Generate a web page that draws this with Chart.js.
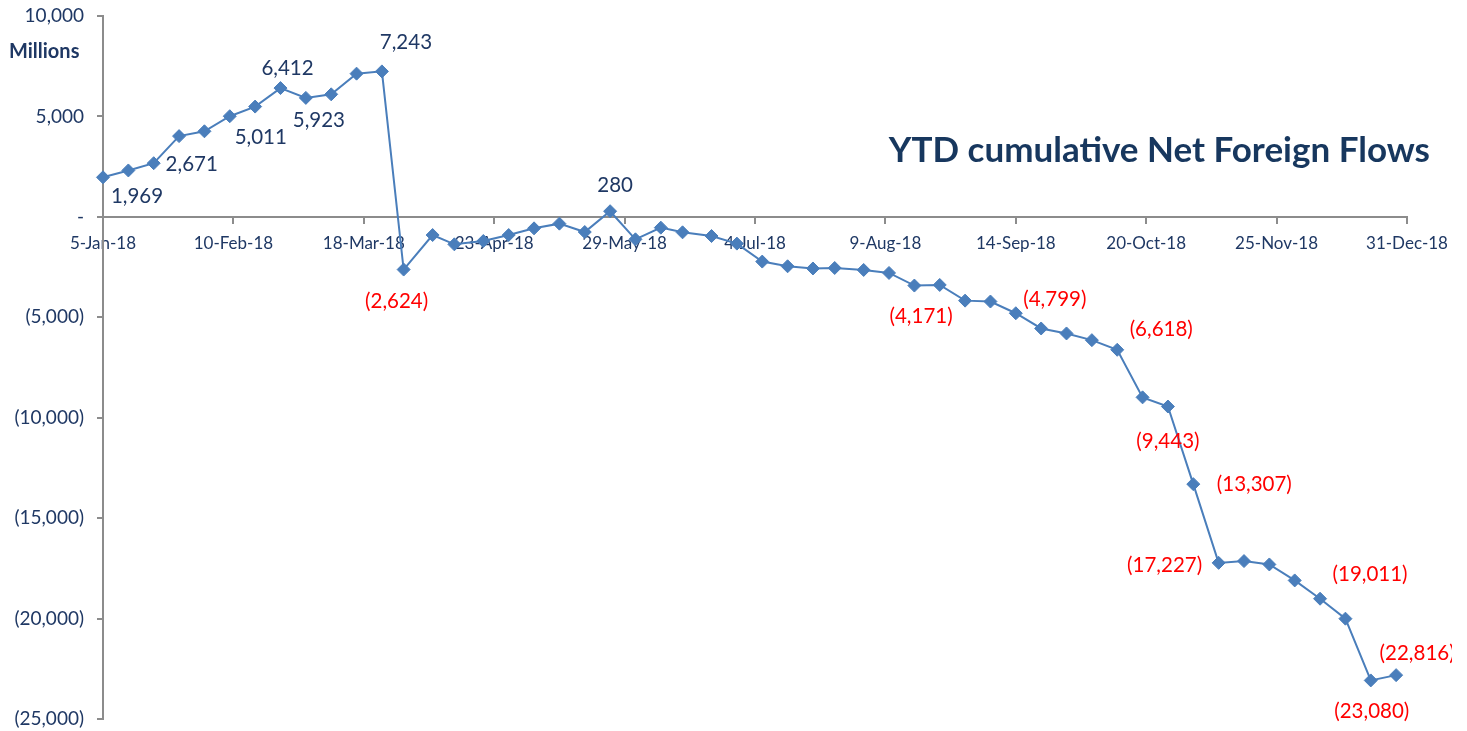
<!DOCTYPE html>
<html>
<head>
<meta charset="utf-8">
<script src="https://cdn.jsdelivr.net/npm/chart.js@4/dist/chart.umd.min.js"></script>
<style>
html,body{margin:0;padding:0;background:#fff;}
#wrap{width:1452px;height:731px;position:relative;overflow:hidden;}
</style>
</head>
<body>
<div id="wrap"><canvas id="c"></canvas></div>
<script>
// ---- data ----
const weekDates = [
  '2018-01-05','2018-01-12','2018-01-19','2018-01-26','2018-02-02','2018-02-09','2018-02-16','2018-02-23',
  '2018-03-02','2018-03-09','2018-03-16','2018-03-23','2018-03-29','2018-04-06','2018-04-12','2018-04-20',
  '2018-04-27','2018-05-04','2018-05-11','2018-05-18','2018-05-25','2018-06-01','2018-06-08','2018-06-14',
  '2018-06-22','2018-06-29','2018-07-06','2018-07-13','2018-07-20','2018-07-26','2018-08-03','2018-08-10',
  '2018-08-17','2018-08-24','2018-08-31','2018-09-07','2018-09-14','2018-09-21','2018-09-28','2018-10-05',
  '2018-10-12','2018-10-19','2018-10-26','2018-11-02','2018-11-09','2018-11-16','2018-11-23','2018-11-30',
  '2018-12-07','2018-12-14','2018-12-21','2018-12-28'
];
const netFlows = [
  1969, 2310, 2671, 4020, 4260, 5011, 5490, 6412,
  5923, 6100, 7130, 7243, -2624, -905, -1367, -1202,
  -905, -572, -338, -755, 280, -1118, -537, -770,
  -954, -1332, -2227, -2460, -2570, -2545, -2644, -2793,
  -3420, -3390, -4171, -4215, -4799, -5557, -5805, -6138,
  -6618, -8986, -9443, -13307, -17227, -17137, -17306, -18101,
  -19011, -20005, -23080, -22816
];
const xTickLabels = ['5-Jan-18','10-Feb-18','18-Mar-18','23-Apr-18','29-May-18','4-Jul-18','9-Aug-18','14-Sep-18','20-Oct-18','25-Nov-18','31-Dec-18'];
const labelledPoints = [0,2,5,7,8,11,12,20,34,36,40,42,43,44,48,50,51];
const chartTitle = 'YTD cumulative Net Foreign Flows';
const unitLabel = 'Millions';

// ---- presentation ----
const startDate = Date.parse(weekDates[0]);
const points = weekDates.map((d, i) => ({x: (Date.parse(d) - startDate) / 86400000, y: netFlows[i]}));
const labelOffsets = {
  0:[34,19], 2:[38,1], 5:[31,21], 7:[7,-20], 8:[13,23], 11:[24,-29], 12:[-7,32], 20:[5,-26],
  34:[-44,16], 36:[39,-14], 40:[44,-20], 42:[0,35], 43:[61,0], 44:[-54,3], 48:[50,-24], 50:[1,31], 51:[21,-22]
};
const FONT = 'Lato, "Open Sans", sans-serif';
const NAVY = '#1f3864';
const AXIS = '#8c8c8c';
const BLUE = '#4a7ebb';

function fmtNum(v) {
  if (v === 0) return '-';
  const s = Math.abs(v).toLocaleString('en-US');
  return v < 0 ? '(' + s + ')' : s;
}

const overlay = {
  id: 'overlay',
  afterDatasetsDraw(chart) {
    const ctx = chart.ctx;
    const meta = chart.getDatasetMeta(0);
    ctx.save();
    ctx.font = '20.5px ' + FONT;
    ctx.textAlign = 'center';
    ctx.textBaseline = 'middle';
    labelledPoints.forEach(i => {
      const el = meta.data[i];
      const off = labelOffsets[i] || [0, -20];
      ctx.fillStyle = netFlows[i] < 0 ? '#ff0000' : NAVY;
      ctx.fillText(fmtNum(netFlows[i]), el.x + off[0], el.y + off[1]);
    });
    ctx.font = 'bold 35px ' + FONT;
    ctx.textAlign = 'right';
    ctx.fillStyle = '#17375e';
    ctx.fillText(chartTitle, 1430, 151);
    ctx.font = 'bold 20px ' + FONT;
    ctx.textAlign = 'left';
    ctx.fillStyle = NAVY;
    ctx.fillText(unitLabel, 9, 52);
    ctx.restore();
  }
};

new Chart(document.getElementById('c'), {
  type: 'line',
  data: {
    datasets: [{
      data: points,
      borderColor: BLUE,
      backgroundColor: BLUE,
      borderWidth: 2,
      pointStyle: 'rectRot',
      pointRadius: 6.5,
      pointBorderWidth: 1,
      pointBorderColor: BLUE,
      pointBackgroundColor: BLUE,
      tension: 0,
      clip: false
    }]
  },
  options: {
    responsive: true,
    maintainAspectRatio: false,
    animation: false,
    devicePixelRatio: 1,
    layout: {padding: {left: 0, right: 45, top: 16, bottom: 12}},
    plugins: {legend: {display: false}, tooltip: {enabled: false}, title: {display: false}},
    scales: {
      x: {
        type: 'linear',
        position: {y: 0},
        min: 0, max: 360,
        afterFit(s) { s.height = 0; s.paddingLeft = 0; s.paddingRight = 0; s.paddingTop = 0; s.paddingBottom = 0; },
        ticks: {
          stepSize: 36,
          autoSkip: false,
          maxRotation: 0,
          padding: 10,
          color: NAVY,
          font: {family: FONT, size: 17},
          callback: (v) => xTickLabels[Math.round(v / 36)]
        },
        grid: {drawOnChartArea: false, drawTicks: true, tickLength: 6, color: AXIS, lineWidth: 2},
        border: {color: AXIS, width: 2}
      },
      y: {
        position: 'left',
        min: -25000, max: 10000,
        afterFit(s) { s.width = 103; s.paddingTop = 0; s.paddingBottom = 0; s.paddingLeft = 0; s.paddingRight = 0; },
        ticks: {
          stepSize: 5000,
          padding: 13,
          color: NAVY,
          font: {family: FONT, size: 19},
          callback: (v) => fmtNum(v)
        },
        grid: {drawOnChartArea: false, drawTicks: true, tickLength: 6, color: AXIS, lineWidth: 2},
        border: {color: AXIS, width: 2}
      }
    }
  },
  plugins: [overlay]
});
</script>
</body>
</html>
